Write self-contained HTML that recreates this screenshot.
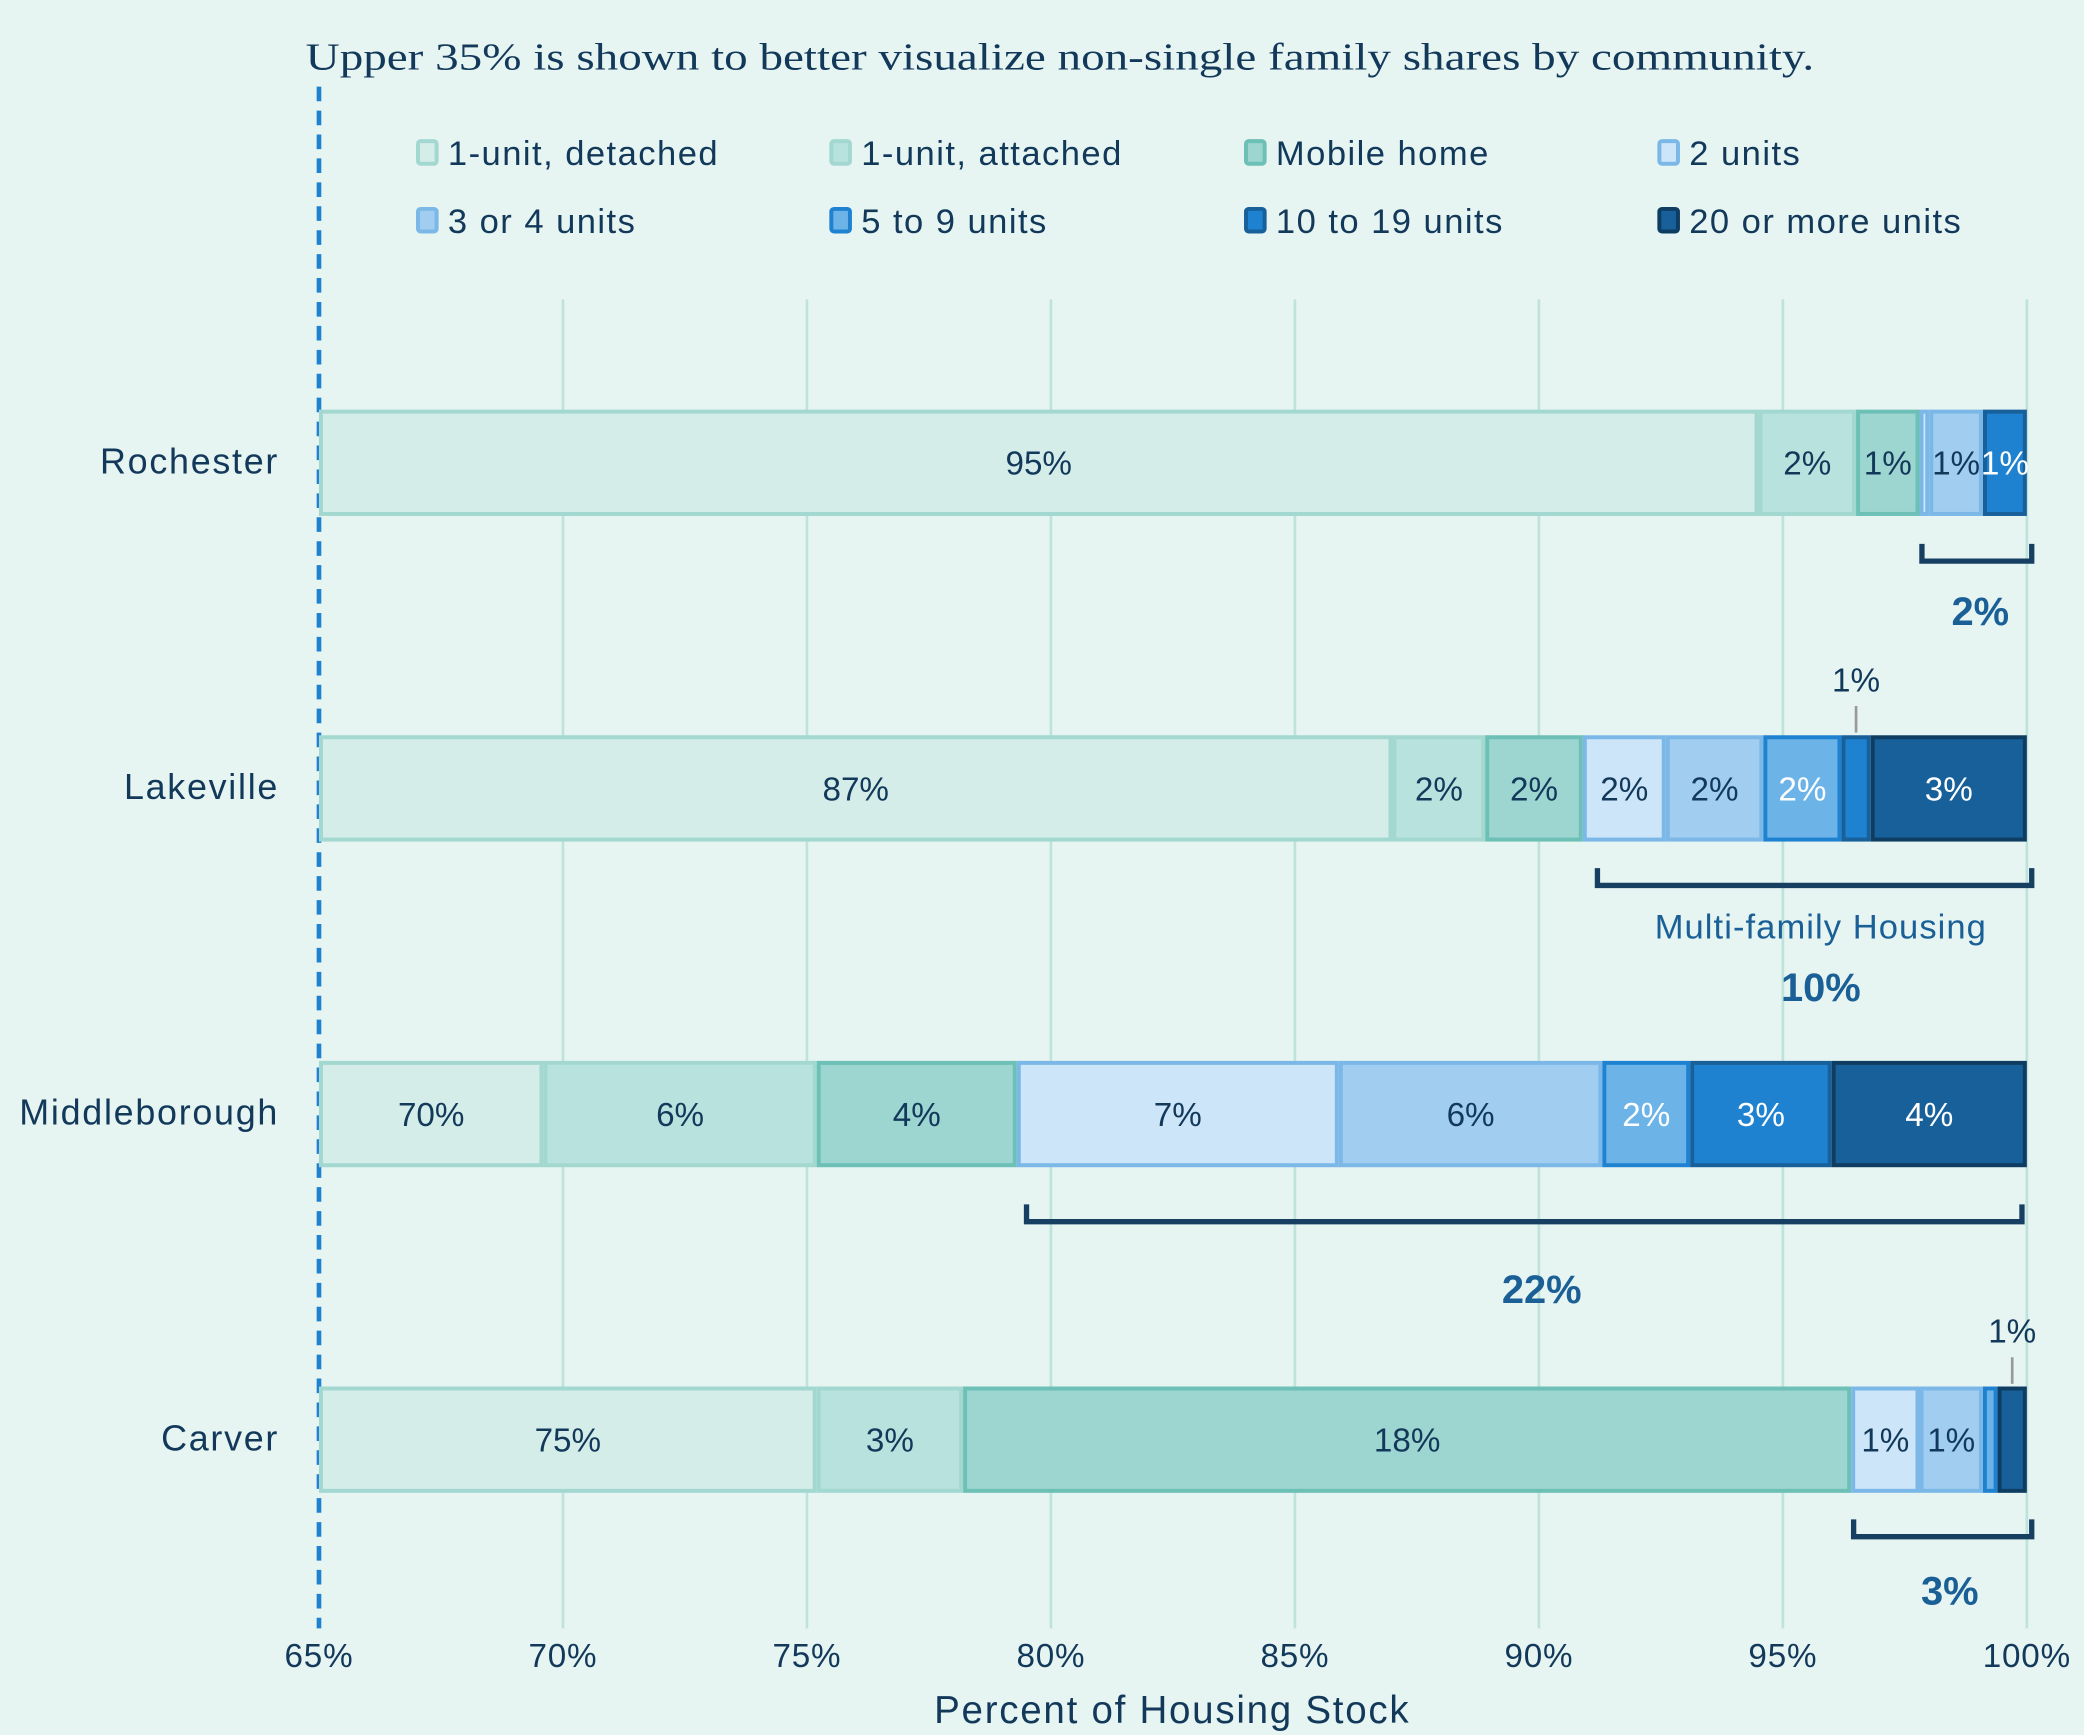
<!DOCTYPE html>
<html><head><meta charset="utf-8"><style>
html,body{margin:0;padding:0;background:#e6f4f2;}
svg{display:block;font-family:"Liberation Sans",sans-serif;}
</style></head><body>
<svg id="chart" width="2084" height="1735" viewBox="0 0 1568 1305" xmlns="http://www.w3.org/2000/svg">
<rect x="0" y="0" width="1568" height="1305" fill="#e6f4f2"/>
<text x="230" y="52" font-family="Liberation Serif, serif" font-size="29" fill="#12385a" textLength="1135" lengthAdjust="spacingAndGlyphs">Upper 35% is shown to better visualize non-single family shares by community.</text>
<g id="grid"></g>
<g id="bars"></g>
<g id="legend"></g>
<g id="annot"></g>
<text x="882" y="1296" text-anchor="middle" font-size="29" letter-spacing="1.3" fill="#12385a">Percent of Housing Stock</text>
</svg>
<script>
const categories = ["Rochester","Lakeville","Middleborough","Carver"];
const seriesNames = ["1-unit, detached","1-unit, attached","Mobile home","2 units","3 or 4 units","5 to 9 units","10 to 19 units","20 or more units"];
const rochester = [94.5, 2.0, 1.3, 0.2, 1.1, 0, 1.0, 0];
const lakeville = [87.0, 1.9, 2.0, 1.7, 2.0, 1.6, 0.6, 3.2];
const middleborough = [69.6, 5.6, 4.1, 6.6, 5.4, 1.8, 2.9, 4.0];
const carver = [75.2, 3.0, 18.2, 1.4, 1.3, 0.3, 0, 0.6];
const rochesterLabels = ["95%","2%","1%","","1%","","1%",""];
const lakevilleLabels = ["87%","2%","2%","2%","2%","2%","",  "3%"];
const middleboroughLabels = ["70%","6%","4%","7%","6%","2%","3%","4%"];
const carverLabels = ["75%","3%","18%","1%","1%","","",""];
const xTicks = [65,70,75,80,85,90,95,100];
const multiTotals = ["2%","10%","22%","3%"];

const fills = ["#d5ede9","#b8e2dd","#9dd5d0","#cde5f8","#a0cdf0","#6cb4e8","#1f82d0","#17609a"];
const strokes = ["#a3d8d1","#a3d8d1","#6cc0b5","#7bb8e8","#7bb8e8","#1f82d0","#17609a","#0f3d62"];
const textCol = ["#12385a","#12385a","#12385a","#12385a","#12385a","#ffffff","#ffffff","#ffffff"];
const NS="http://www.w3.org/2000/svg";
const X0=240, X1=1525;
function xs(v){return X0+(v-65)/35*(X1-X0);}
const rowY=[348,593,838,1083], BH=80;
function mk(tag,attrs,parent,txt){const e=document.createElementNS(NS,tag);for(const k in attrs)e.setAttribute(k,attrs[k]);if(txt!==undefined)e.textContent=txt;parent.appendChild(e);return e;}
const grid=document.getElementById('grid'), bars=document.getElementById('bars'), leg=document.getElementById('legend'), ann=document.getElementById('annot');
xTicks.forEach(t=>{
  if(t>65){const l=mk('line',{x1:xs(t),x2:xs(t),y1:225,y2:1225,stroke:"#bfe3dc","stroke-width":2},grid);
  
  }
  const tx=mk('text',{x:xs(t),y:1254,"text-anchor":"middle","font-size":25,"letter-spacing":0.6,fill:"#12385a"},grid,t+"%");
  
  
});
const dl=mk('line',{x1:X0,x2:X0,y1:65,y2:1225,stroke:"#1f82d0","stroke-width":3.5,"stroke-dasharray":"11 7"},grid);


const data=[rochester,lakeville,middleborough,carver];
const labels=[rochesterLabels,lakevilleLabels,middleboroughLabels,carverLabels];
data.forEach((vals,r)=>{
  const cy=rowY[r];
  const cl=mk('text',{x:210,y:cy+8,"text-anchor":"end","font-size":27,"letter-spacing":1.3,fill:"#12385a"},bars,categories[r]);
  
  
  let cum=0;
  vals.forEach((v,i)=>{
    const a=Math.max(cum,65), b=Math.min(cum+v,100); cum+=v;
    if(v<=0||b<=a) return;
    const x=xs(a), w=xs(b)-xs(a);
    const rc=mk('rect',{x:x+1.5,y:cy-BH/2+1.5,width:Math.max(w-3,0.5),height:BH-3,fill:fills[i],stroke:strokes[i],"stroke-width":3},bars);
    
    
    if(labels[r][i]){
      const t=mk('text',{x:x+w/2,y:cy+9,"text-anchor":"middle","font-size":25,fill:textCol[i]},bars,labels[r][i]);
      
      
    }
  });
});
function callout(r,si,txt){
  let s=0;for(let k=0;k<si;k++)s+=data[r][k];
  const cx=xs(s+data[r][si]/2), top=rowY[r]-BH/2;
  const l=mk('line',{x1:cx,x2:cx,y1:top-22,y2:top-2,stroke:"#999","stroke-width":2},ann);
  
  
  const t=mk('text',{x:cx,y:top-33,"text-anchor":"middle","font-size":25,fill:"#12385a"},ann,txt);
  
  
}
callout(1,6,"1%");
callout(3,7,"1%");
const brk=[[97.85,100.1,422,1490,470,""],[91.2,100.1,666,1370,753,"Multi-family Housing"],[79.5,99.9,919,1160,980,""],[96.45,100.1,1156,1467,1207,""]];
brk.forEach((b,r)=>{
  const x1=xs(b[0]), x2=xs(b[1]), y=b[2];
  const p=mk('path',{d:`M${x1} ${y-13} V${y} H${x2} V${y-13}`,fill:"none",stroke:"#173f62","stroke-width":4},ann);
  
  
  if(b[5]){const t=mk('text',{x:b[3],y:706,"text-anchor":"middle","font-size":26,"letter-spacing":0.8,fill:"#1a5f96"},ann,b[5]);
  
  }
  const t2=mk('text',{x:b[3],y:b[4],"text-anchor":"middle","font-size":30,"font-weight":"bold",fill:"#1a5f96"},ann,multiTotals[r]);
  
  
});
const lx=[313,624,936,1247], ly=[115,166];
seriesNames.forEach((n,i)=>{
  const x=lx[i%4], y=ly[Math.floor(i/4)];
  const sw=mk('rect',{x:x+1.5,y:y-9,width:14,height:17,rx:2,fill:fills[i],stroke:strokes[i],"stroke-width":3},leg);
  
  
  const t=mk('text',{x:x+24,y:y+9,"font-size":26,"letter-spacing":1.1,fill:"#12385a"},leg,n);
  
  
});
</script>
</body></html>
